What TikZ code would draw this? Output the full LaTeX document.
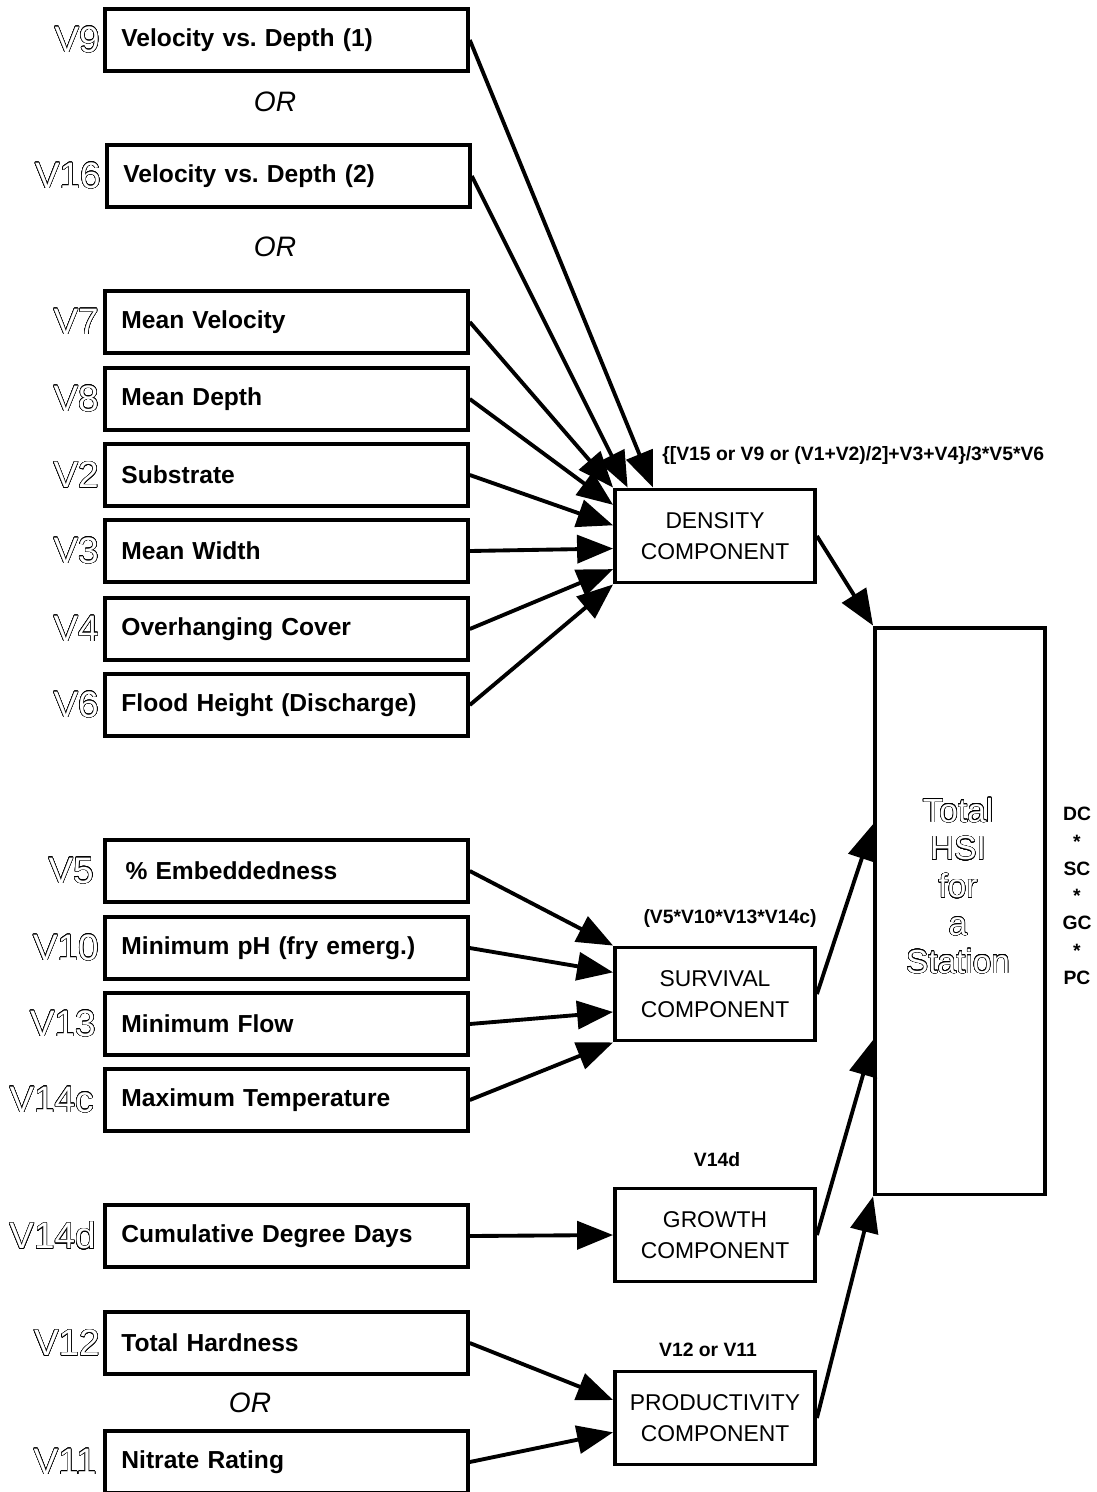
\documentclass[tikz,border=0pt]{standalone}
\usepackage{fontspec}
\setmainfont{Liberation Sans}
\usepackage{contour}
\contourlength{0.3pt}
\contournumber{24}
\usetikzlibrary{positioning,arrows.meta}
\newcommand\outl[1]{\contour{black}{\textcolor{white}{#1}}}
\frenchspacing
\begin{document}
\begin{tikzpicture}[x=0.02cm, y=-0.02cm,
  inbox/.style={draw, line width=2.2pt, anchor=west, minimum height=1.24cm, text width=6.6cm, inner xsep=0.33cm, align=left, font=\bfseries\fontsize{14}{16}\selectfont},
  vlab/.style={font=\fontsize{21}{24}\selectfont, inner sep=0pt},
  comp/.style={draw, line width=2.2pt, minimum width=4cm, minimum height=1.86cm, align=center, font=\fontsize{13}{18}\selectfont},
  formula/.style={font=\bfseries\fontsize{11}{13}\selectfont, inner sep=0pt},
  orlab/.style={font=\itshape\fontsize{16}{18}\selectfont},
  arr/.style={line width=2.2pt, -{Triangle[length=0.72cm,width=0.56cm]}}]
\useasboundingbox (0,0) rectangle (1097,1492);
% density inputs
\node[inbox] (v9) at (103,40) {Velocity vs. Depth (1)};
\node[orlab] (or1) at (275,102) {OR};
\node[inbox] (v16) at (105,176) {Velocity vs. Depth (2)};
\node[orlab] (or2) at (275,247) {OR};
\node[inbox] (v7) at (103,322) {Mean Velocity};
\node[inbox] (v8) at (103,399) {Mean Depth};
\node[inbox] (v2) at (103,475) {Substrate};
\node[inbox] (v3) at (103,551) {Mean Width};
\node[inbox] (v4) at (103,629) {Overhanging Cover};
\node[inbox] (v6) at (103,705) {Flood Height (Discharge)};
% survival inputs
\node[inbox] (v5) at (103,871) {\,\% Embeddedness};
\node[inbox] (v10) at (103,948) {Minimum pH (fry emerg.)};
\node[inbox] (v13) at (103,1024) {Minimum Flow};
\node[inbox] (v14c) at (103,1100) {Maximum Temperature};
% growth and productivity inputs
\node[inbox] (v14d) at (103,1236) {Cumulative Degree Days};
\node[inbox] (v12) at (103,1343) {Total Hardness};
\node[orlab] (or3) at (250,1403) {OR};
\node[inbox] (v11) at (103,1462) {Nitrate Rating};
% variable labels
\node[vlab, left=0.06cm of v9] (l9) {\outl{V9}};
\node[vlab, left=0.08cm of v16] (l16) {\outl{V16}};
\node[vlab, left=0.08cm of v7] (l7) {\outl{V7}};
\node[vlab, left=0.08cm of v8] (l8) {\outl{V8}};
\node[vlab, left=0.08cm of v2] (l2) {\outl{V2}};
\node[vlab, left=0.08cm of v3] (l3) {\outl{V3}};
\node[vlab, left=0.08cm of v4] (l4) {\outl{V4}};
\node[vlab, left=0.08cm of v6] (l6) {\outl{V6}};
\node[vlab, left=0.18cm of v5] (l5) {\outl{V5}};
\node[vlab, left=0.08cm of v10] (l10) {\outl{V10}};
\node[vlab, left=0.14cm of v13] (l13) {\outl{V13}};
\node[vlab, left=0.18cm of v14c] (l14c) {\outl{V14c}};
\node[vlab, left=0.14cm of v14d] (l14d) {\outl{V14d}};
\node[vlab, left=0.06cm of v12] (l12) {\outl{V12}};
\node[vlab, left=0.12cm of v11] (l11) {\outl{V11}};
% components
\node[comp] (dens) at (715,536) {DENSITY\\COMPONENT};
\node[comp] (surv) at (715,994) {SURVIVAL\\COMPONENT};
\node[comp] (grow) at (715,1235) {GROWTH\\COMPONENT};
\node[comp] (prod) at (715,1418) {PRODUCTIVITY\\COMPONENT};
\node[formula, anchor=west] (densf) at (662,455) {\{[V15 or V9 or (V1+V2)/2]+V3+V4\}/3*V5*V6};
\node[formula] (survf) at (730,918) {(V5*V10*V13*V14c)};
\node[formula] (growf) at (717,1160) {V14d};
\node[formula] (prodf) at (708,1350) {V12 or V11};
% total
\node[draw, line width=2.2pt, minimum width=3.4cm, minimum height=11.34cm] (total) at (960,911) {};
\node[align=center, font=\fontsize{19}{21.5}\selectfont] (hsi) at (958,886) {\outl{Total}\\\outl{HSI}\\\outl{for}\\\outl{a}\\\outl{Station}};
\node[formula, align=center, font=\bfseries\fontsize{11}{15.5}\selectfont] (prodall) at (1077,896) {DC\\*\\SC\\*\\GC\\*\\PC};
% arrows
\draw[arr] (v9.east) -- (dens.142);
\draw[arr] (v16.east) -- (dens.151);
\draw[arr] (v7.east) -- (dens.north west);
\draw[arr] (v8.east) -- (dens.163);
\draw[arr] (v2.east) -- (dens.174);
\draw[arr] (v3.east) -- (dens.187);
\draw[arr] (v4.east) -- (dens.198);
\draw[arr] (v6.east) -- (dens.south west);
\draw[arr] (v5.east) -- (surv.north west);
\draw[arr] (v10.east) -- (surv.168);
\draw[arr] (v13.east) -- (surv.190);
\draw[arr] (v14c.east) -- (surv.south west);
\draw[arr] (v14d.east) -- (grow.west);
\draw[arr] (v12.east) -- (prod.170);
\draw[arr] (v11.east) -- (prod.188);
\draw[arr] (dens.east) -- (total.north west);
\draw[arr] (surv.east) -- (total.135);
\draw[arr] (grow.east) -- (total.236);
\draw[arr] (prod.east) -- (total.south west);
\end{tikzpicture}
\end{document}
